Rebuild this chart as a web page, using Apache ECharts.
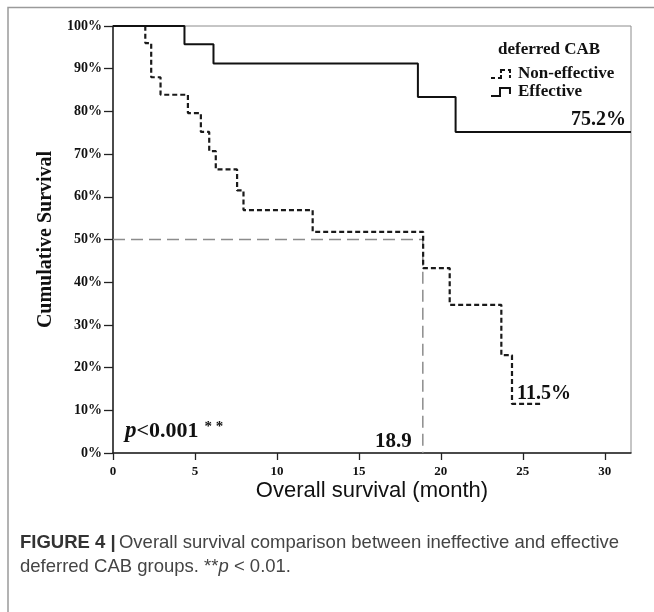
<!DOCTYPE html>
<html>
<head>
<meta charset="utf-8">
<script src="https://cdn.jsdelivr.net/npm/echarts@6/dist/echarts.min.js"></script>
<style>
html,body{margin:0;padding:0;background:#fff;}
#chart{width:654px;height:612px;}
</style>
</head>
<body>
<div id="chart"></div>
<script>
// ---- data ----
const seriesNames = ['Non-effective', 'Effective'];
// Kaplan-Meier step points: months, cumulative survival (%)
const nonEffMonths = [0, 1.97, 2.33, 2.9, 4.57, 5.36, 5.87, 6.27, 7.57, 7.96, 12.18, 18.92, 20.54, 23.69, 24.34, 26.16];
const nonEffSurv   = [100, 96.0, 88.0, 83.9, 79.6, 75.2, 70.7, 66.4, 61.5, 56.9, 51.8, 43.3, 34.7, 22.9, 11.5, 11.5];
const effMonths = [0, 4.36, 6.13, 18.6, 20.9, 31.6];
const effSurv   = [100, 95.7, 91.2, 83.4, 75.2, 75.2];
// median survival reference
const medianMonth = 18.9;
const medianSurv = 50;
// axis ticks
const xTicks = [0, 5, 10, 15, 20, 25, 30];
const yTicks = [0, 10, 20, 30, 40, 50, 60, 70, 80, 90, 100];
const xMax = 31.6;
// annotations
const effFinalLabel = '75.2%';
const nonEffFinalLabel = '11.5%';
const medianLabel = '18.9';

const pairs = (xs, ys) => xs.map((x, i) => [x, ys[i]]);

const serif = "'Liberation Serif', 'Times New Roman', serif";
const sans = "'Liberation Sans', Arial, sans-serif";
const chart = echarts.init(document.getElementById('chart'));

const option = {
  backgroundColor: '#ffffff',
  animation: false,
  grid: { left: 113, right: 23, top: 26, bottom: 159, show: true, borderColor: '#8c8c8c', borderWidth: 1 },
  xAxis: {
    type: 'value', min: 0, max: xMax,
    axisLine: { show: true, onZero: false, lineStyle: { color: '#222', width: 1.5 } },
    axisTick: { show: true, customValues: xTicks, length: 7, lineStyle: { color: '#222', width: 1.3 } },
    axisLabel: { customValues: xTicks, margin: 12, color: '#111', fontFamily: serif, fontWeight: 'bold', fontSize: 13 },
    splitLine: { show: false },
    name: 'Overall survival (month)', nameLocation: 'middle', nameGap: 38, nameMoveOverlap: false,
    nameTextStyle: { fontFamily: sans, fontSize: 22, color: '#111', verticalAlign: 'middle' }
  },
  yAxis: {
    type: 'value', min: 0, max: 100, interval: 10,
    axisLine: { show: true, lineStyle: { color: '#222', width: 1.5 } },
    axisTick: { show: true, customValues: yTicks, length: 9, lineStyle: { color: '#222', width: 1.3 } },
    axisLabel: { customValues: yTicks, formatter: '{value}%', margin: 11, color: '#111', fontFamily: serif, fontWeight: 'bold', fontSize: 14 },
    splitLine: { show: false },
    name: 'Cumulative Survival', nameLocation: 'middle', nameGap: 57, nameRotate: 90,
    nameTextStyle: { fontFamily: serif, fontWeight: 'bold', fontSize: 20, color: '#111' }
  },
  legend: {
    orient: 'vertical', left: 485, top: 60, itemWidth: 25, itemHeight: 8, itemGap: 0,
    selectedMode: false,
    textStyle: { fontFamily: serif, fontWeight: 'bold', fontSize: 17, color: '#111', lineHeight: 18, padding: [0, 0, 0, -3] },
    data: [
      { name: seriesNames[0], icon: 'path://M0,8 L4,8 M7,8 L10,8 L10,5 M10,3 L10,0 L14,0 M17,0 L19,0 L19,3 M19,5 L19,8 M25,8 L25,8.01',
        itemStyle: { color: 'transparent', borderColor: '#111', borderWidth: 2 } },
      { name: seriesNames[1], icon: 'path://M0,8 L9,8 L9,0 L19,0 L19,6 M25,8 L25,8.01',
        itemStyle: { color: 'transparent', borderColor: '#111', borderWidth: 2 } }
    ]
  },
  series: [
    {
      name: 'median', type: 'line', silent: true, symbol: 'none', z: 1,
      data: [[0, medianSurv], [medianMonth, medianSurv], [medianMonth, 0]],
      lineStyle: { color: '#8c8c8c', width: 1.5, type: [12, 6] }
    },
    {
      name: seriesNames[0], type: 'line', step: 'end', symbol: 'none', z: 3,
      data: pairs(nonEffMonths, nonEffSurv),
      lineStyle: { color: '#1a1a1a', width: 2.2, type: [5, 3] }
    },
    {
      name: seriesNames[1], type: 'line', step: 'end', symbol: 'none', z: 4,
      data: pairs(effMonths, effSurv),
      lineStyle: { color: '#111', width: 2 }
    }
  ],
  graphic: [
    // outer figure frame
    { type: 'polyline', silent: true, shape: { points: [[8, 612], [8, 7.5], [654, 7.5]] },
      style: { stroke: '#9a9a9a', lineWidth: 1.5, fill: null } },
    { type: 'text', left: 498, top: 41, style: { text: 'deferred CAB', fontFamily: serif, fontWeight: 'bold', fontSize: 17, fill: '#111' } },
    { type: 'text', right: 28, top: 110, style: { text: effFinalLabel, fontFamily: serif, fontWeight: 'bold', fontSize: 20, fill: '#111' } },
    { type: 'text', left: 517, top: 384, style: { text: nonEffFinalLabel, fontFamily: serif, fontWeight: 'bold', fontSize: 20, fill: '#111' } },
    { type: 'text', left: 375, top: 431, style: { text: medianLabel, fontFamily: serif, fontWeight: 'bold', fontSize: 21, fill: '#111' } },
    { type: 'text', left: 125, top: 420, style: {
        text: '{p|p}{n|<0.001}{s|* *}',
        rich: {
          p: { fontFamily: serif, fontStyle: 'italic', fontWeight: 'bold', fontSize: 23, fill: '#111' },
          n: { fontFamily: serif, fontWeight: 'bold', fontSize: 22, fill: '#111' },
          s: { fontFamily: serif, fontWeight: 'bold', fontSize: 15, fill: '#111', verticalAlign: 'top', padding: [0, 0, 8, 6] }
        } } },
    { type: 'text', left: 20, top: 531, style: {
        text: '{b|FIGURE 4 |} {r|Overall survival comparison between ineffective and effective}\n{r|deferred CAB groups. **}{i|p}{r| < 0.01.}',
        lineHeight: 24,
        rich: {
          b: { fontFamily: sans, fontWeight: 'bold', fontSize: 18.5, fill: '#333', lineHeight: 24 },
          r: { fontFamily: sans, fontSize: 18.5, fill: '#444', lineHeight: 24 },
          i: { fontFamily: sans, fontStyle: 'italic', fontSize: 18.5, fill: '#444', lineHeight: 24 }
        } } }
  ]
};
chart.setOption(option);
</script>
</body>
</html>
